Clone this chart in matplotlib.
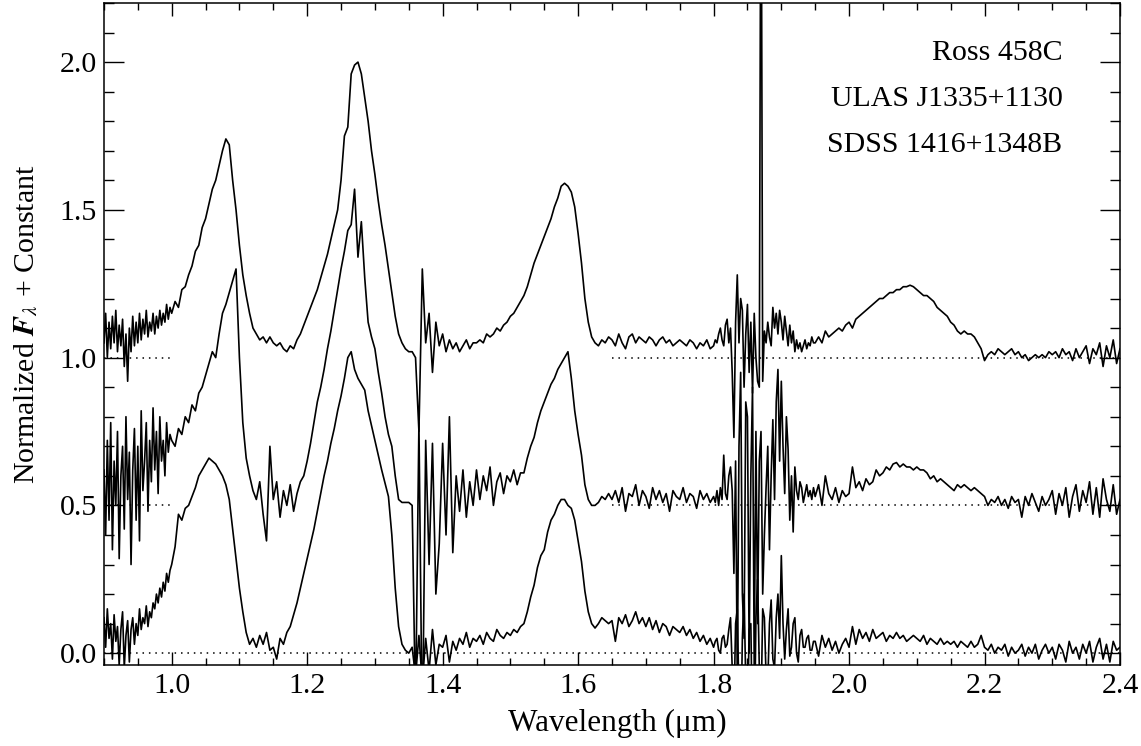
import numpy as np
import matplotlib
matplotlib.use("Agg")
import matplotlib.pyplot as plt
from matplotlib.ticker import MultipleLocator

plt.rcParams['font.family'] = ['Liberation Serif', 'DejaVu Serif']
plt.rcParams['mathtext.fontset'] = 'stix'

# wavelength sampling grid (micron): finer sampling in the noisy stretches
wavelength = np.round(np.concatenate([
    np.arange(0.900, 0.99999, 0.0025),
    np.arange(1.000, 1.79999, 0.005),
    np.arange(1.800, 1.94999, 0.0025),
    np.arange(1.950, 2.40001, 0.005),
]), 4)

# normalized fluxes
ross458c = [
    # 0.900-0.9975 (step 0.0025)
    0.05, 0.15, 0.00, 0.12, 0.03, 0.14, 0.05, 0.16, 0.02, 0.11,
    0.04, 0.13, -0.03, 0.08, -0.08, 0.10, 0.02, 0.14, 0.04, 0.12,
    0.05, 0.15, 0.06, 0.13, 0.08, 0.16, 0.07, 0.12, 0.09, 0.15,
    0.08, 0.14, 0.10, 0.16, 0.11, 0.15, 0.12, 0.18, 0.13, 0.17,
    # 1.00-1.795 (step 0.005)
    0.15, 0.19, 0.17, 0.23, 0.24, 0.28, 0.31, 0.36, 0.38, 0.44,    # 1.00
    0.47, 0.52, 0.57, 0.60, 0.65, 0.70, 0.74, 0.72, 0.60, 0.50,    # 1.05
    0.38, 0.28, 0.21, 0.15, 0.10, 0.08, 0.06, 0.07, 0.05, 0.07,    # 1.10
    0.05, 0.04, 0.05, 0.03, 0.02, 0.04, 0.03, 0.06, 0.08, 0.11,    # 1.15
    0.14, 0.17, 0.20, 0.23, 0.27, 0.31, 0.35, 0.40, 0.45, 0.50,    # 1.20
    0.60, 0.75, 0.78, 0.96, 0.99, 1.00, 0.96, 0.88, 0.80, 0.70,    # 1.25
    0.62, 0.53, 0.45, 0.38, 0.30, 0.22, 0.14, 0.08, 0.05, 0.03,    # 1.30
    0.02, 0.02, 0.00, -0.25, 0.30, 0.05, 0.15, -0.05, 0.12, 0.04,  # 1.35
    0.08, 0.02, 0.06, 0.03, 0.05, 0.02, 0.04, 0.06, 0.03, 0.05,    # 1.40
    0.05, 0.06, 0.05, 0.08, 0.07, 0.08, 0.10, 0.09, 0.11, 0.12,    # 1.45
    0.14, 0.15, 0.17, 0.19, 0.21, 0.24, 0.28, 0.32, 0.35, 0.38,    # 1.50
    0.41, 0.44, 0.47, 0.51, 0.54, 0.58, 0.59, 0.58, 0.56, 0.51,    # 1.55
    0.42, 0.32, 0.20, 0.12, 0.07, 0.05, 0.04, 0.06, 0.05, 0.07,    # 1.60
    0.06, 0.04, 0.08, 0.05, 0.03, 0.07, 0.08, 0.05, 0.07, 0.06,    # 1.65
    0.05, 0.07, 0.06, 0.04, 0.06, 0.07, 0.05, 0.06, 0.04, 0.05,    # 1.70
    0.06, 0.05, 0.04, 0.06, 0.05, 0.03, 0.05, 0.04, 0.06, 0.03,    # 1.75
    # 1.800-1.9475 (step 0.0025)
    0.04, 0.06, 0.05, 0.08, 0.10, 0.06, 0.04, 0.11, 0.13, 0.05,
    0.10, -0.05, -0.27, 0.12, 0.28, 0.05, 0.20, 0.16, -0.10, 0.08,
    0.18, -0.05, 0.12, -0.12, 0.15, 0.00, -0.08, -0.10, 2.00, -0.08,
    0.09, 0.05, 0.12, 0.07, 0.04, 0.17, 0.10, 0.15, 0.08, 0.16,
    0.12, 0.06, 0.14, 0.09, 0.04, 0.11, 0.05, 0.09, 0.02, 0.06,
    0.03, 0.05, 0.02, 0.04, 0.06, 0.03, 0.05, 0.04, 0.07, 0.05,
    # 1.95-2.40 (step 0.005)
    0.05, 0.07, 0.05, 0.09, 0.07, 0.08, 0.09, 0.10, 0.09, 0.11,    # 1.95
    0.12, 0.10, 0.13, 0.14, 0.15, 0.16, 0.17, 0.18, 0.19, 0.20,    # 2.00
    0.20, 0.21, 0.22, 0.22, 0.23, 0.23, 0.24, 0.24, 0.245, 0.24,   # 2.05
    0.23, 0.22, 0.21, 0.21, 0.20, 0.19, 0.17, 0.16, 0.15, 0.14,    # 2.10
    0.12, 0.11, 0.09, 0.08, 0.09, 0.08, 0.08, 0.07, 0.05, 0.03,    # 2.15
    -0.01, 0.01, 0.02, 0.01, 0.03, 0.02, 0.01, 0.02, 0.03, 0.01,   # 2.20
    0.02, 0.00, 0.01, -0.01, 0.00, 0.01, 0.00, 0.01, 0.00, 0.02,   # 2.25
    0.01, 0.02, 0.00, 0.03, 0.01, 0.02, -0.01, 0.03, 0.00, 0.02,   # 2.30
    0.04, -0.02, 0.03, 0.01, 0.05, -0.03, 0.04, 0.00, 0.06, -0.02, # 2.35
    0.03,                                                          # 2.40
]

ulas1335 = [
    # 0.900-0.9975
    0.12, -0.10, 0.22, -0.05, 0.28, -0.15, 0.15, 0.00, 0.25, -0.18,
    0.10, 0.20, -0.08, 0.30, 0.02, 0.18, -0.20, 0.12, 0.26, -0.05,
    0.20, -0.12, 0.32, 0.05, 0.15, 0.28, -0.02, 0.22, 0.08, 0.33,
    0.12, 0.25, 0.04, 0.30, 0.15, 0.22, 0.10, 0.28, 0.18, 0.24,
    # 1.00-1.795
    0.22, 0.20, 0.26, 0.24, 0.30, 0.28, 0.34, 0.32, 0.38, 0.40,      # 1.00
    0.44, 0.48, 0.52, 0.50, 0.58, 0.65, 0.68, 0.72, 0.76, 0.80,      # 1.05
    0.50, 0.28, 0.16, 0.10, 0.05, 0.02, 0.08, -0.03, -0.12, 0.20,    # 1.10
    0.02, 0.08, -0.04, 0.05, 0.00, 0.07, -0.02, 0.04, 0.08, 0.10,    # 1.15
    0.15, 0.21, 0.28, 0.35, 0.40, 0.46, 0.53, 0.59, 0.66, 0.73,      # 1.20
    0.80, 0.86, 0.93, 0.95, 1.07, 0.84, 0.96, 0.77, 0.62, 0.57,      # 1.25
    0.53, 0.45, 0.38, 0.30, 0.24, 0.20, 0.10, 0.02, 0.01, 0.01,      # 1.30
    0.01, 0.00, -0.70, 0.28, -0.80, 0.22, -0.20, 0.21, -0.30, -0.13, # 1.35
    0.21, -0.10, 0.30, -0.16, 0.10, -0.02, 0.12, -0.04, 0.08, 0.00,  # 1.40
    0.12, 0.02, 0.10, 0.05, 0.13, 0.00, 0.08, 0.11, 0.04, 0.10,      # 1.45
    0.08, 0.12, 0.07, 0.11, 0.11, 0.16, 0.20, 0.23, 0.28, 0.32,      # 1.50
    0.35, 0.38, 0.41, 0.43, 0.46, 0.48, 0.50, 0.52, 0.43, 0.32,      # 1.55
    0.24, 0.17, 0.07, 0.02, 0.00, 0.00, 0.01, 0.03, 0.02, 0.04,      # 1.60
    0.02, 0.05, 0.01, 0.06, -0.02, 0.04, 0.03, 0.07, 0.00, 0.05,     # 1.65
    0.03, -0.01, 0.06, 0.02, 0.05, 0.01, 0.04, -0.02, 0.05, 0.03,    # 1.70
    0.02, 0.06, 0.01, 0.04, 0.03, -0.01, 0.05, 0.02, 0.04, 0.01,     # 1.75
    # 1.800-1.9475
    0.03, 0.01, 0.05, 0.00, 0.06, 0.02, 0.17, 0.04, 0.02, 0.10,
    0.13, 0.05, -0.23, 0.15, -0.60, 0.20, 0.45, -0.30, -0.45, 0.35,
    0.30, -0.50, 0.10, 0.40, -0.55, 0.25, -0.40, 0.15, 0.25, -0.30,
    -0.10, 0.06, 0.20, -0.15, 0.10, 0.29, 0.02, 0.35, 0.46, 0.15,
    0.42, 0.20, 0.04, 0.30, 0.19, -0.05, 0.10, -0.09, 0.13, 0.05,
    0.02, 0.08, 0.06, 0.01, 0.04, 0.07, 0.03, 0.05, 0.02, 0.06,
    # 1.95-2.40
    0.03, 0.07, 0.00, 0.10, 0.04, 0.02, 0.06, 0.01, 0.05, 0.03,      # 1.95
    0.04, 0.13, 0.06, 0.08, 0.05, 0.09, 0.07, 0.08, 0.12, 0.10,      # 2.00
    0.11, 0.13, 0.12, 0.14, 0.145, 0.13, 0.14, 0.13, 0.13, 0.12,     # 2.05
    0.13, 0.12, 0.12, 0.11, 0.09, 0.10, 0.08, 0.09, 0.08, 0.07,      # 2.10
    0.06, 0.05, 0.07, 0.06, 0.07, 0.06, 0.05, 0.06, 0.05, 0.04,      # 2.15
    0.03, 0.00, 0.02, 0.01, 0.03, 0.00, 0.02, -0.01, 0.03, 0.01,     # 2.20
    0.02, -0.04, 0.03, 0.00, 0.04, 0.01, -0.02, 0.03, 0.00, 0.02,    # 2.25
    0.05, -0.03, 0.04, 0.00, 0.06, -0.04, 0.03, 0.07, -0.02, 0.05,   # 2.30
    0.01, 0.08, -0.03, 0.06, -0.04, 0.09, 0.02, -0.02, 0.07, -0.03,  # 2.35
    0.02,                                                            # 2.40
]

sdss1416b = [
    # 0.900-0.9975
    0.12, 0.02, 0.15, 0.05, 0.10, -0.02, 0.13, 0.04, 0.09, -0.04,
    0.08, 0.14, -0.05, 0.06, 0.11, -0.03, 0.08, 0.12, 0.03, 0.10,
    0.06, 0.15, 0.08, 0.12, 0.10, 0.16, 0.09, 0.14, 0.12, 0.17,
    0.15, 0.20, 0.17, 0.22, 0.19, 0.24, 0.21, 0.27, 0.24, 0.28,
    # 1.00-1.795
    0.30, 0.36, 0.47, 0.45, 0.49, 0.50, 0.53, 0.56, 0.60, 0.62,      # 1.00
    0.64, 0.66, 0.65, 0.64, 0.62, 0.60, 0.57, 0.52, 0.42, 0.32,      # 1.05
    0.22, 0.14, 0.07, 0.03, 0.05, 0.02, 0.06, 0.03, 0.07, 0.01,      # 1.10
    0.02, -0.02, 0.05, 0.03, 0.07, 0.09, 0.13, 0.17, 0.22, 0.27,     # 1.15
    0.32, 0.37, 0.42, 0.48, 0.54, 0.60, 0.65, 0.71, 0.76, 0.82,      # 1.20
    0.87, 0.93, 1.00, 1.02, 0.96, 0.93, 0.91, 0.89, 0.82, 0.77,      # 1.25
    0.72, 0.67, 0.62, 0.575, 0.53, 0.40, 0.22, 0.09, 0.03, 0.01,     # 1.30
    0.00, 0.02, -0.08, 0.06, -0.10, 0.05, -0.06, 0.08, -0.04, 0.03,  # 1.35
    0.02, 0.06, -0.03, 0.04, 0.01, 0.05, 0.03, 0.07, 0.02, 0.05,     # 1.40
    0.04, 0.06, 0.03, 0.07, 0.05, 0.04, 0.08, 0.06, 0.05, 0.07,      # 1.45
    0.06, 0.08, 0.07, 0.09, 0.10, 0.14, 0.19, 0.23, 0.29, 0.33,      # 1.50
    0.35, 0.41, 0.45, 0.47, 0.50, 0.52, 0.52, 0.50, 0.49, 0.45,      # 1.55
    0.38, 0.31, 0.21, 0.14, 0.10, 0.085, 0.10, 0.12, 0.11, 0.10,     # 1.60
    0.11, 0.04, 0.12, 0.10, 0.13, 0.09, 0.11, 0.14, 0.10, 0.12,      # 1.65
    0.09, 0.12, 0.08, 0.11, 0.07, 0.10, 0.09, 0.06, 0.09, 0.08,      # 1.70
    0.07, 0.09, 0.06, 0.08, 0.05, 0.07, 0.04, 0.06, 0.03, 0.05,      # 1.75
    # 1.800-1.9475
    0.02, 0.04, 0.05, 0.01, 0.00, 0.05, 0.06, 0.02, 0.03, 0.08,
    0.12, -0.05, -0.20, 0.10, 0.15, -0.15, -0.30, 0.05, 0.20, -0.10,
    -0.25, 0.08, 0.10, -0.30, -0.35, 0.12, 0.25, -0.05, -0.20, 0.15,
    0.12, -0.08, -0.10, 0.10, 0.18, -0.02, -0.05, 0.12, 0.20, 0.05,
    0.33, 0.10, -0.02, 0.08, 0.15, -0.01, 0.02, 0.10, 0.12, 0.00,
    -0.03, 0.06, 0.08, 0.02, 0.02, 0.05, 0.06, 0.01, 0.01, 0.04,
    # 1.95-2.40
    0.04, -0.01, 0.06, 0.02, 0.05, 0.01, 0.04, 0.00, 0.03, 0.05,     # 1.95
    0.02, 0.09, 0.03, 0.08, 0.05, 0.07, 0.04, 0.08, 0.05, 0.06,      # 2.00
    0.07, 0.04, 0.06, 0.05, 0.07, 0.05, 0.06, 0.04, 0.05, 0.06,      # 2.05
    0.05, 0.04, 0.06, 0.03, 0.05, 0.04, 0.03, 0.05, 0.03, 0.04,      # 2.10
    0.03, 0.04, 0.02, 0.04, 0.03, 0.02, 0.04, 0.02, 0.03, 0.06,      # 2.15
    0.02, 0.01, 0.03, 0.00, 0.02, 0.01, 0.03, -0.01, 0.02, 0.00,     # 2.20
    0.01, 0.03, -0.01, 0.02, 0.00, 0.03, -0.02, 0.01, 0.03, 0.00,    # 2.25
    0.02, -0.02, 0.03, 0.01, -0.03, 0.04, 0.00, 0.02, -0.02, 0.03,   # 2.30
    0.00, 0.04, -0.03, 0.02, 0.05, -0.02, 0.03, -0.03, 0.04, 0.01,   # 2.35
    0.02,                                                            # 2.40
]

names = ["Ross 458C", "ULAS J1335+1130", "SDSS 1416+1348B"]
offsets = [1.0, 0.5, 0.0]
spectra = [ross458c, ulas1335, sdss1416b]
zero_segments = [[(0.9, 1.0), (1.65, 2.4)],
                 [(0.9, 1.0), (1.65, 2.4)],
                 [(0.9, 2.4)]]

fig = plt.figure(figsize=(11.41, 7.46), dpi=100)
ax = fig.add_axes([0.0911, 0.1086, 0.8905, 0.8874])

for off, segs in zip(offsets, zero_segments):
    for a, b in segs:
        ax.plot([a, b], [off, off], color='black', lw=1.1,
                linestyle=(0, (1, 3.2)), zorder=1)

for spec, off in zip(spectra, offsets):
    assert len(spec) == len(wavelength)
    ax.plot(wavelength, np.asarray(spec) + off, color='black', lw=1.2,
            zorder=2)

ax.set_xlim(0.9, 2.4)
ax.set_ylim(-0.04, 2.2)

ax.xaxis.set_major_locator(MultipleLocator(0.2))
ax.xaxis.set_minor_locator(MultipleLocator(0.05))
ax.yaxis.set_major_locator(MultipleLocator(0.5))
ax.yaxis.set_minor_locator(MultipleLocator(0.1))
ax.xaxis.set_major_formatter(plt.FuncFormatter(lambda v, p: f"{v:.1f}"))
ax.yaxis.set_major_formatter(plt.FuncFormatter(lambda v, p: f"{v:.1f}"))

ax.tick_params(axis='both', which='both', direction='in', top=True,
               right=True, width=1.0, colors='black', labelsize=21.5)
ax.tick_params(axis='x', which='major', length=9.4, pad=6)
ax.tick_params(axis='x', which='minor', length=4.7)
ax.tick_params(axis='y', which='major', length=14.4, pad=5)
ax.tick_params(axis='y', which='minor', length=7.2)
for s in ax.spines.values():
    s.set_linewidth(1.1)

ax.set_xlabel("Wavelength (\u03bcm)", fontsize=22.5)
ax.set_ylabel(r"Normalized $\boldsymbol{F}_{\lambda}$ + Constant", fontsize=21.5)
ax.xaxis.set_label_coords(0.505, -0.066)
ax.yaxis.set_label_coords(-0.063, 0.515)

label_y = [2.03, 1.875, 1.72]
for name, yy in zip(names, label_y):
    ax.text(2.315, yy, name, ha='right', va='center', fontsize=21.5)

fig.savefig("out.png", dpi=100)
